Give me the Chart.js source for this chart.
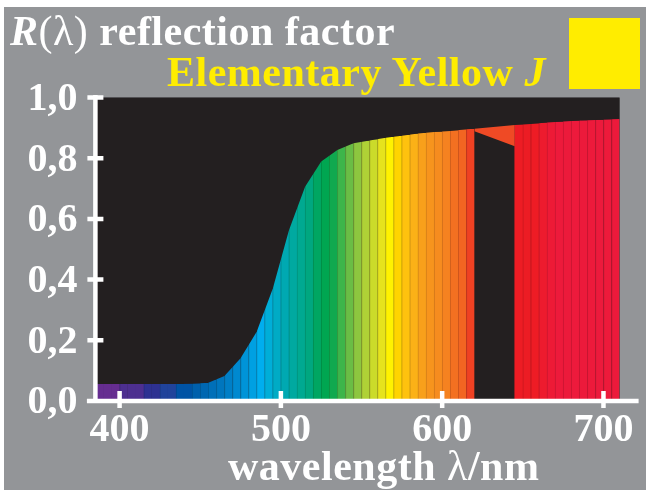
<!DOCTYPE html>
<html><head><meta charset="utf-8">
<script src="https://cdn.jsdelivr.net/npm/chart.js@4.4.1/dist/chart.umd.min.js"></script>
<style>
html,body{margin:0;padding:0;background:#fff;width:646px;height:490px;overflow:hidden}
#panel{position:absolute;left:4px;top:7px;width:642px;height:483px;background:#939598}
canvas{position:absolute;left:0;top:0}
.t{position:absolute;white-space:nowrap;font-family:'Liberation Serif','Times New Roman',serif;font-weight:bold;font-size:42px;line-height:42px;letter-spacing:0.5px}
.n{font-weight:normal}
#swatch{position:absolute;left:569px;top:18px;width:71px;height:71px;background:#ffed00}
</style></head><body>
<div id="panel"><canvas id="c" width="642" height="483"></canvas></div>
<div class="t" style="left:10px;top:10px;color:#fff"><i>R</i><span class="n">(λ)</span> reflection factor</div>
<div class="t" style="left:167px;top:51px;color:#ffed00">Elementary Yellow <i>J</i></div>
<div class="t" style="left:228px;top:445px;color:#fff">wavelength <span class="n">λ</span>/nm</div>
<div id="swatch"></div>
<script>
// ---- data ----
const binStart = [385,390,395,400,405,410,415,420,425,430,435,440,445,450,455,460,465,470,475,480,
  485,490,495,500,505,510,515,520,525,530,535,540,545,550,555,560,565,570,575,580,
  585,590,595,600,605,610,615,
  645,650,655,660,665,670,675,680,685,690,695,700,705];
const binColor = ['#662d91','#662d91','#662d91','#4d2f90','#4d2f90','#4d2f90','#2e3192','#2e3192','#20439b','#20439b',
  '#0053a5','#0053a5','#0060ac','#0067b1','#006fb8','#0076be','#007fc7','#0089d0','#0094d8','#00a0e2',
  '#00aeef','#00aed8','#00abc5','#00a9b2','#00a9a0','#00a991','#00a780','#00a662','#00a651','#10a94f',
  '#3db54a','#6abd45','#8dc63f','#afd136','#cbdb2a','#e6e31d','#fff200','#ffd400','#fec20e','#fbb117',
  '#f8a01b','#f7941d','#f68c1f','#f58220','#f37021','#f26522','#ef4123',
  '#ed1c24','#ec1c24','#ee1c25','#ed1b2e','#ed1a36','#ed1a3b','#ec1a3b','#ed1a3c','#ec1a3b','#ed1a3b','#ec1a3c','#ed1a3b','#ec1a3b'];
const binWidth = 5;
const curveWl = [385,395,405,415,425,435,445,455,465,475,485,495,505,515,525,535,545,555,565,575,
  585,595,605,615,625,635,645,655,665,675,685,695,705,710];
const curveR = [0.056,0.056,0.056,0.056,0.056,0.056,0.057,0.060,0.082,0.141,0.228,0.371,0.563,0.706,0.789,0.827,0.849,0.858,0.867,0.874,
  0.881,0.886,0.890,0.895,0.899,0.904,0.909,0.913,0.918,0.921,0.924,0.926,0.928,0.929];
const triWl = [620,645];
const triLower = [0.889,0.839];
const xTicks = [400,500,600,700];
const yTicks = [0,0.2,0.4,0.6,0.8,1.0];

// ---- helpers ----
function R(w){
  for(let i=0;i<curveWl.length-1;i++){
    if(w>=curveWl[i] && w<=curveWl[i+1]){
      const t=(w-curveWl[i])/(curveWl[i+1]-curveWl[i]);
      return curveR[i]+t*(curveR[i+1]-curveR[i]);
    }
  }
  return curveR[curveR.length-1];
}
function darken(hex,f){
  const n=parseInt(hex.slice(1),16);
  const r=Math.round(((n>>16)&255)*f),g=Math.round(((n>>8)&255)*f),b=Math.round((n&255)*f);
  return 'rgb('+r+','+g+','+b+')';
}
const barPts = binStart.map(s=>({x:s+binWidth/2, y:Math.max(R(s),R(s+binWidth))}));
const barBorderW = binStart.map((s,i)=>({left:(i>0 && binColor[i]!==binColor[i-1] && binStart[i-1]+binWidth===s)?1:0,top:0,right:0,bottom:0}));
const barBorderC = binColor.map(c=>darken(c,0.85));
const curvePts = curveWl.map((w,i)=>({x:w,y:curveR[i]}));
const triTopPts = triWl.map(w=>({x:w,y:R(w)}));
const triLowPts = triWl.map((w,i)=>({x:w,y:triLower[i]}));

const FONT = "'Liberation Serif','Times New Roman',serif";
const plotBg = {id:'plotBg', beforeDatasetsDraw(chart){
  const {ctx,chartArea:a}=chart; ctx.save(); ctx.fillStyle='#231f20';
  ctx.fillRect(a.left,a.top,a.right-a.left,a.bottom-a.top); ctx.restore();}};
const axes = {id:'axes', afterDatasetsDraw(chart){
  const {ctx,chartArea:a}=chart; const xs=chart.scales.x, ys=chart.scales.y;
  const x0=xs.getPixelForValue(xs.min), y0=ys.getPixelForValue(0), y1=ys.getPixelForValue(1);
  ctx.save(); ctx.strokeStyle='#fff'; ctx.lineWidth=4.5; ctx.lineCap='butt';
  ctx.beginPath();
  ctx.moveTo(x0,y1-2.5); ctx.lineTo(x0,y0+2);
  ctx.moveTo(x0-8.5,y0); ctx.lineTo(a.right+19,y0);
  yTicks.forEach(v=>{const y=ys.getPixelForValue(v); ctx.moveTo(x0-8,y); ctx.lineTo(x0+8,y);});
  xTicks.forEach(v=>{const x=xs.getPixelForValue(v); ctx.moveTo(x,y0-10); ctx.lineTo(x,y0+7);});
  ctx.stroke(); ctx.restore();}};

new Chart(document.getElementById('c'),{
  type:'bar',
  data:{datasets:[
    {type:'bar',data:barPts,backgroundColor:binColor,borderColor:barBorderC,borderWidth:barBorderW,borderSkipped:false,
     barPercentage:1,categoryPercentage:1,order:3},
    {type:'line',data:curvePts,fill:'end',backgroundColor:'#231f20',borderWidth:0,pointRadius:0,tension:0,order:2},
    {type:'line',data:triTopPts,fill:false,borderWidth:0,borderColor:'rgba(0,0,0,0)',pointRadius:0,order:1},
    {type:'line',data:triLowPts,fill:'-1',backgroundColor:'#ef4a25',borderWidth:0,borderColor:'rgba(0,0,0,0)',pointRadius:0,order:1}
  ]},
  options:{
    responsive:false,animation:false,devicePixelRatio:1,
    layout:{padding:{top:90.5,right:26.4,left:0,bottom:0}},
    plugins:{legend:{display:false},tooltip:{enabled:false}},
    scales:{
      x:{type:'linear',min:385,max:710,offset:false,
        grid:{display:false,drawTicks:false},border:{display:false},
        afterBuildTicks:s=>{s.ticks=xTicks.map(v=>({value:v}));},
        ticks:{color:'#fff',font:{family:FONT,size:40,weight:'bold'},padding:6,maxRotation:0,autoSkip:false},
        afterFit:s=>{s.height=89;}},
      y:{min:0,max:1,
        grid:{display:false,drawTicks:false},border:{display:false},
        afterBuildTicks:s=>{s.ticks=yTicks.map(v=>({value:v}));},
        ticks:{color:'#fff',font:{family:FONT,size:40,weight:'bold'},padding:18,labelOffset:2,
          callback:v=>v.toFixed(1).replace('.',',')},
        afterFit:s=>{s.width=91.4;}}
    }
  },
  plugins:[plotBg,axes]
});
</script>
</body></html>
